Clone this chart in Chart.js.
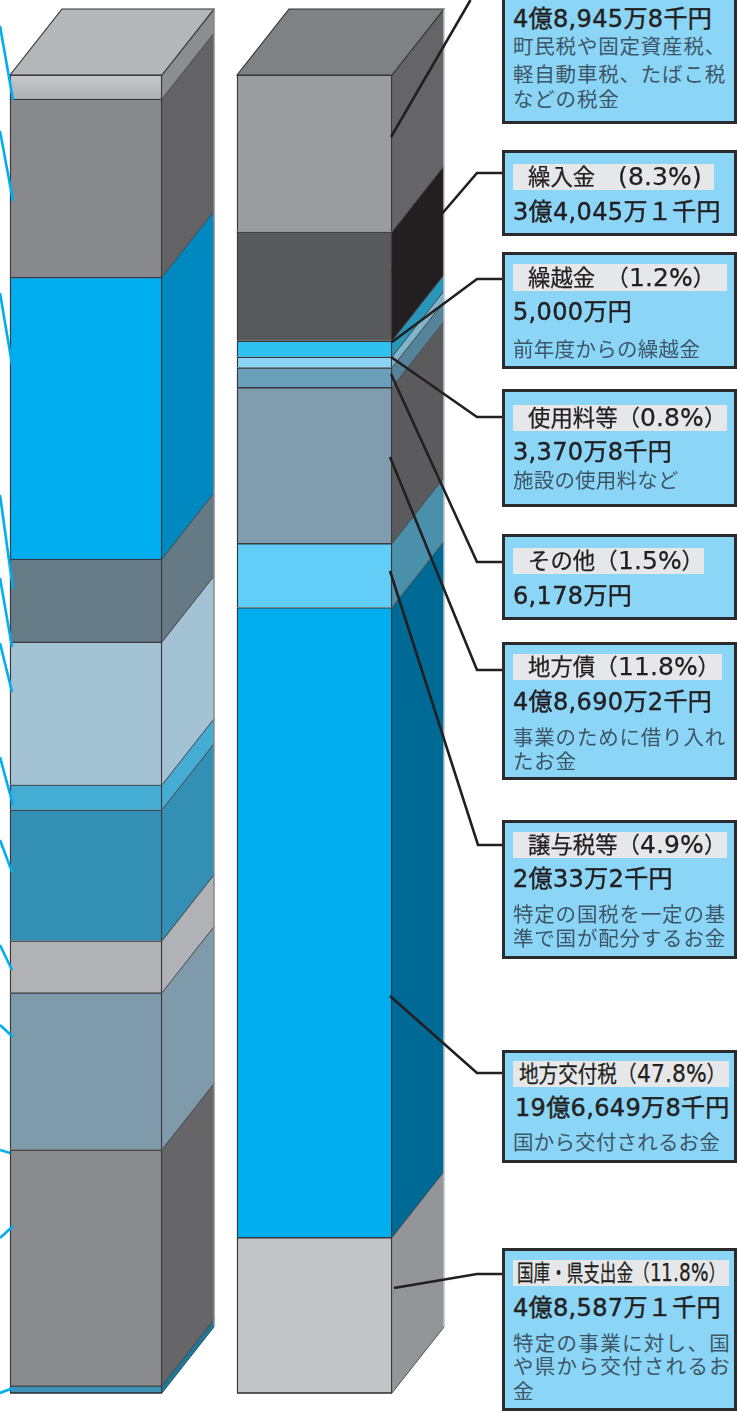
<!DOCTYPE html>
<html lang="ja">
<head>
<meta charset="utf-8">
<script src="https://cdn.jsdelivr.net/npm/chart.js@4"></script>
<style>
@font-face{font-family:"NumWide";src:local("DejaVu Sans");size-adjust:111%;unicode-range:U+20-7E}
html,body{margin:0;padding:0;background:#fff;overflow:hidden}
#wrap{position:relative;width:737px;height:1411px;overflow:hidden}
#c{position:absolute;left:0;top:0}
.box{position:absolute;box-sizing:border-box;background:#8bd5f7;border:3px solid #2b2a2c}
.strip{position:absolute;background:#e6e7e8}
.t{position:absolute;white-space:pre;line-height:30px;height:30px;transform-origin:left center}
.title{font-size:22.4px;color:#231f20;font-family:"NumWide","DejaVu Sans","Noto Sans CJK JP",sans-serif;-webkit-text-stroke:0.25px #231f20}
.amount{font-size:24px;letter-spacing:0.35px;color:#231f20;font-family:"DejaVu Sans","Noto Sans CJK JP",sans-serif;-webkit-text-stroke:0.45px #231f20}
.sub{font-size:20.5px;color:#3d5666;font-family:"Noto Sans CJK JP",sans-serif}
</style>
</head>
<body>
<div id="wrap"><canvas id="c" width="737" height="1411"></canvas></div>
<script>
// ---- data (bottom of stack first, unit: 万円) ----
const categories = ['歳出', '歳入'];
const expenditureLabels = ['項目1','項目2','項目3','項目4','項目5','項目6','項目7','項目8','項目9','項目10','項目11'];
const expenditureValues = [2300, 73700, 49000, 16200, 40900, 7800, 44600, 25900, 88000, 55600, 7500];
const revenueLabels = ['国庫・県支出金','地方交付税','譲与税等','地方債','その他','使用料等','繰越金','繰入金','町税'];
const revenueValues = [48587.1, 196649.8, 20033.2, 48690.2, 6178, 3370.8, 5000, 34045.1, 48945.8];
const stackTotal = 411500;

// ---- styles ----
const expenditureFront = ['#3f93b5','#8a8b8e','#7f9bab','#b1b2b6','#3390b4','#45acd3','#a3c3d5','#667b86','#00adef','#88898c','#bbbcbf'];
const expenditureSide  = ['#1a7a9e','#666668','#7f9bab','#b1b2b6','#3390b4','#45acd3','#a3c3d5','#667a85','#0089c0','#636365','#8c8d90'];
const revenueFront = ['#c3c4c6','#00aeef','#62cdf7','#7f9dae','#6a9fba','#8cd4f5','#2fc1f0','#58595b','#9b9c9f'];
const revenueSide  = ['#939598','#006a96','#4a90ab','#5b5b5d','#55849a','#7fb5cc','#2796bb','#231f20','#656567'];
const topFaceColors = ['#b5b6ba','#808184'];
const backEdgeColors = ['#8a8a8c','#b9c3cb'];
const DEPTH_X = 52, DEPTH_Y = 66;

// ---- annotation geometry ----
const blueLeaders = [[0,26,13,100],[0,131,13,201],[0,293,13,370],[0,495,13,589],[0,578,12,647],[0,643,12,692],[0,757,13,805],[0,840,12,872],[0,945,12,970],[0,1025,13,1037],[0,1150,10,1153],[0,1238,13,1226],[0,1393,13,1388]];
const blackLeaders = [
  [[470.5,0],[391,137]],
  [[503,173],[477,173],[392,272]],
  [[503,279],[477,279],[392,342]],
  [[503,417],[477,417],[391,357]],
  [[503,562],[477,562],[391,374]],
  [[503,670],[477,670],[390,457]],
  [[503,845],[478,845],[390,571]],
  [[503,1073],[477,1073],[390,996]],
  [[503,1274],[477,1274],[394,1288]]
];
// lines: [class, text, x, centerY, letter spacing, horizontal scale]
const infoBoxes = [
  {y0:-6,y1:124,strip:null,lines:[
    ['amount','4億8,945万8千円',513,19],
    ['sub','町民税や固定資産税、',513,45,0.8],
    ['sub','軽自動車税、たばこ税',513,73,0.8],
    ['sub','などの税金',513,98,0.8]]},
  {y0:150,y1:236,strip:[513,714,164,190],lines:[
    ['title','繰入金　(8.3%)',528,177],
    ['amount','3億4,045万１千円',513,212]]},
  {y0:252,y1:369,strip:[513,727,264,291],lines:[
    ['title','繰越金　（1.2%）',528,278],
    ['amount','5,000万円',513,312],
    ['sub','前年度からの繰越金',513,348,0.3]]},
  {y0:389,y1:507,strip:[513,727,405,431],lines:[
    ['title','使用料等（0.8%）',528,418],
    ['amount','3,370万8千円',513,452],
    ['sub','施設の使用料など',513,479,0.2]]},
  {y0:534,y1:620,strip:[513,704,548,574],lines:[
    ['title','その他（1.5%）',528,561],
    ['amount','6,178万円',513,596]]},
  {y0:642,y1:780,strip:[513,722,654,680],lines:[
    ['title','地方債（11.8%）',528,667],
    ['amount','4億8,690万2千円',513,702],
    ['sub','事業のために借り入れ',513,736,0.8],
    ['sub','たお金',513,760,0.8]]},
  {y0:820,y1:959,strip:[513,727,832,858],lines:[
    ['title','譲与税等（4.9%）',528,845],
    ['amount','2億33万2千円',513,879],
    ['sub','特定の国税を一定の基',513,913,0.8],
    ['sub','準で国が配分するお金',513,937,0.8]]},
  {y0:1050,y1:1163,strip:[513,729,1061,1087],lines:[
    ['title','地方交付税（47.8%）',519,1074,0,0.875],
    ['amount','19億6,649万8千円',515,1108],
    ['sub','国から交付されるお金',513,1141,0.2]]},
  {y0:1248,y1:1411,strip:[513,729,1260,1286],lines:[
    ['title','国庫・県支出金（11.8%）',517,1273,0,0.74],
    ['amount','4億8,587万１千円',513,1308],
    ['sub','特定の事業に対し、国',513,1342,1.3],
    ['sub','や県から交付されるお',513,1365,1.3],
    ['sub','金',513,1390,1.3]]}
];

// ---- datasets ----
const BAR_BORDER = {top:1.4,left:1.4,right:1.4,bottom:0};
const topBandFill = (ctx)=>{
  const y = ctx.chart.scales.y;
  const v = expenditureValues[expenditureValues.length-1];
  const a = y ? y.getPixelForValue(stackTotal) : NaN, b = y ? y.getPixelForValue(stackTotal-v) : NaN;
  if(!Number.isFinite(a)||!Number.isFinite(b)) return '#bbbcbf';
  const g = ctx.chart.ctx.createLinearGradient(0,a,0,b);
  g.addColorStop(0,'#c6c7ca');g.addColorStop(1,'#b0b1b4');
  return g;
};
const datasets = [];
expenditureValues.forEach((v,i)=>datasets.push({label:expenditureLabels[i],data:[v,null],backgroundColor:i===expenditureValues.length-1?topBandFill:expenditureFront[i],sideColor:expenditureSide[i],barThickness:152,borderColor:'#39393b',borderWidth:BAR_BORDER,borderSkipped:false,clip:false,barIndex:0}));
revenueValues.forEach((v,i)=>datasets.push({label:revenueLabels[i],data:[null,v],backgroundColor:revenueFront[i],sideColor:revenueSide[i],barThickness:155,borderColor:'#39393b',borderWidth:BAR_BORDER,borderSkipped:false,clip:false,barIndex:1}));

const depthPlugin = {
  id:'depth',
  beforeDatasetsDraw(chart){
    const c = chart.ctx; c.save();
    const tops = [null,null];
    chart.data.datasets.forEach((ds,d)=>{
      const el = chart.getDatasetMeta(d).data[ds.barIndex];
      const r = el.x+el.width/2, yT = el.y, yB = el.base;
      c.fillStyle = ds.sideColor;
      c.beginPath();c.moveTo(r,yT);c.lineTo(r+DEPTH_X,yT-DEPTH_Y);c.lineTo(r+DEPTH_X,yB-DEPTH_Y);c.lineTo(r,yB);c.closePath();c.fill();
      c.strokeStyle = '#47474a';c.lineWidth = 0.9;
      c.beginPath();c.moveTo(r,yT);c.lineTo(r+DEPTH_X,yT-DEPTH_Y);c.moveTo(r,yB);c.lineTo(r+DEPTH_X,yB-DEPTH_Y);c.stroke();
      if(!tops[ds.barIndex]||yT<tops[ds.barIndex].yT) tops[ds.barIndex]={el,yT,yB:tops[ds.barIndex]?tops[ds.barIndex].yB:yB};
      if(yB>tops[ds.barIndex].yB) tops[ds.barIndex].yB=yB;
    });
    tops.forEach((t,i)=>{
      const l=t.el.x-t.el.width/2,r=t.el.x+t.el.width/2,yT=t.yT;
      c.fillStyle=topFaceColors[i];c.strokeStyle='#333335';c.lineWidth=1.2;
      c.beginPath();c.moveTo(l,yT);c.lineTo(l+DEPTH_X,yT-DEPTH_Y);c.lineTo(r+DEPTH_X,yT-DEPTH_Y);c.lineTo(r,yT);c.closePath();c.fill();c.stroke();
      c.strokeStyle=backEdgeColors[i];c.lineWidth=1.5;
      c.beginPath();c.moveTo(r+DEPTH_X,yT-DEPTH_Y);c.lineTo(r+DEPTH_X,t.yB-DEPTH_Y);c.stroke();
    });
    c.restore();
    this._tops = tops;
  },
  afterDatasetsDraw(chart){
    const c = chart.ctx; c.save();
    this._tops.forEach(t=>{
      c.strokeStyle='#2b2a2c';c.lineWidth=1.4;
      c.beginPath();c.moveTo(t.el.x-t.el.width/2,t.yB);c.lineTo(t.el.x+t.el.width/2,t.yB);c.stroke();
    });
    c.lineCap='butt';
    c.strokeStyle='#00aeef';c.lineWidth=2.6;
    blueLeaders.forEach(p=>{c.beginPath();c.moveTo(p[0],p[1]);c.lineTo(p[2],p[3]);c.stroke();});
    c.strokeStyle='#231f20';c.lineWidth=2.6;c.lineJoin='miter';
    blackLeaders.forEach(pts=>{c.beginPath();pts.forEach((p,i)=>i?c.lineTo(p[0],p[1]):c.moveTo(p[0],p[1]));c.stroke();});
    c.restore();
  }
};

new Chart(document.getElementById('c'),{
  type:'bar',
  data:{labels:categories,datasets},
  plugins:[depthPlugin],
  options:{
    responsive:false,animation:false,devicePixelRatio:1,
    layout:{padding:{left:86,right:422.5,top:75,bottom:18}},
    plugins:{legend:{display:false},tooltip:{enabled:false},title:{display:false}},
    scales:{
      x:{stacked:true,display:false,offset:false,grid:{display:false}},
      y:{stacked:true,display:false,min:0,max:stackTotal,grid:{display:false}}
    }
  }
});

// ---- info boxes ----
const wrap = document.getElementById('wrap');
function mk(cls,css,txt){const e=document.createElement('div');e.className=cls;e.style.cssText=css;if(txt!=null)e.textContent=txt;wrap.appendChild(e);return e;}
infoBoxes.forEach(b=>{
  mk('box',`left:502px;width:235px;top:${b.y0}px;height:${b.y1-b.y0}px`);
  if(b.strip)mk('strip',`left:${b.strip[0]}px;width:${b.strip[1]-b.strip[0]}px;top:${b.strip[2]}px;height:${b.strip[3]-b.strip[2]}px`);
  b.lines.forEach(l=>mk('t '+l[0],`left:${l[2]}px;top:${l[3]-15}px;`+(l[4]!=null?`letter-spacing:${l[4]}px;`:'')+(l[5]?`transform:scaleX(${l[5]});`:''),l[1]));
});
</script>
</body>
</html>
